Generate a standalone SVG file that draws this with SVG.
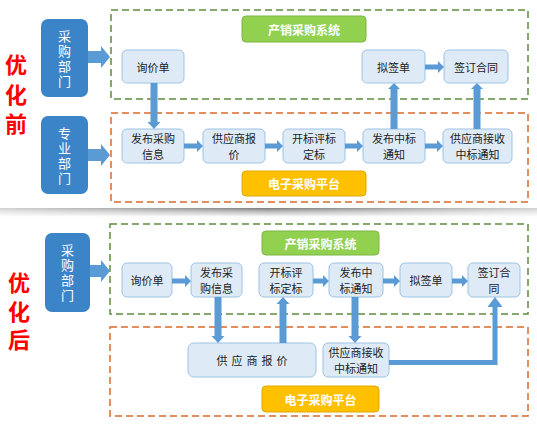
<svg xmlns="http://www.w3.org/2000/svg" width="537" height="424" viewBox="0 0 537 424">
<defs>
<linearGradient id="sh" x1="0" y1="0" x2="0" y2="1">
<stop offset="0" stop-color="#7a7a7a"/>
<stop offset="0.35" stop-color="#b5b5b5"/>
<stop offset="1" stop-color="#ffffff"/>
</linearGradient>
<linearGradient id="shm" x1="0" y1="0" x2="1" y2="0">
<stop offset="0" stop-color="#fff" stop-opacity="0.35"/>
<stop offset="0.5" stop-color="#fff" stop-opacity="1"/>
<stop offset="1" stop-color="#fff" stop-opacity="0.35"/>
</linearGradient>
<mask id="m"><rect x="0" y="200" width="537" height="30" fill="url(#shm)"/></mask>
</defs>
<style>
text{font-family:"Noto Sans CJK SC","Noto Sans",sans-serif;}
.n{fill:#DEEBF7;stroke:#9DC3E6;stroke-width:1;}
.nt{font-size:11px;fill:#222;text-anchor:middle;dominant-baseline:central;}
.d{fill:#3C84C8;}
.dt{font-size:13px;fill:#fff;text-anchor:middle;writing-mode:vertical-rl;letter-spacing:2px;}
.g{fill:#92D050;stroke:#7DB544;stroke-width:1;}
.y{fill:#FFC000;stroke:#E0A900;stroke-width:1;}
.lt{font-size:12px;font-weight:bold;fill:#fff;text-anchor:middle;dominant-baseline:central;}
.gd{fill:none;stroke:#5E8D3C;stroke-width:1.5;stroke-dasharray:7 4;}
.od{fill:none;stroke:#D96A2B;stroke-width:1.5;stroke-dasharray:7 4;}
.a{fill:#5B9BD5;}
.al{fill:none;stroke:#5B9BD5;stroke-width:5;}
.big{font-size:22px;font-weight:bold;fill:#FF0000;text-anchor:middle;writing-mode:vertical-rl;}
</style>
<rect width="537" height="424" fill="#fff"/>
<rect x="0" y="208" width="537" height="9" fill="url(#sh)" mask="url(#m)"/>

<!-- Top section -->
<g id="label-before"><text class="big" x="16" y="98" letter-spacing="7.5">优化前</text></g>
<g id="zone-top-green"><rect class="gd" x="111" y="10" width="417" height="89"/></g>
<g id="zone-top-orange"><rect class="od" x="111" y="113" width="417" height="89"/></g>
<g id="dept-purchase-top"><rect class="d" x="41" y="19" width="47" height="78" rx="7"/>
<text class="dt" x="64.5" y="59.5">采购部门</text></g>
<g id="dept-pro-top"><rect class="d" x="41" y="116" width="47" height="78" rx="7"/>
<text class="dt" x="64.5" y="156.5">专业部门</text></g>
<g id="sys-top"><rect class="g" x="242" y="16" width="124" height="26" rx="4"/><text class="lt" x="304" y="29">产销采购系统</text></g>
<g id="plat-top"><rect class="y" x="242" y="171" width="124" height="25" rx="4"/><text class="lt" x="304" y="183.5">电子采购平台</text></g>
<g id="t-inquiry"><rect class="n" x="122" y="50" width="62" height="33" rx="5"/><text class="nt" x="153" y="66.5">询价单</text></g>
<g id="t-publish"><rect class="n" x="122" y="129" width="62" height="34" rx="5"/><text class="nt"><tspan x="153" y="138">发布采购</tspan><tspan x="153" y="154">信息</tspan></text></g>
<g id="t-quote"><rect class="n" x="203" y="129" width="62" height="34" rx="5"/><text class="nt"><tspan x="234" y="138">供应商报</tspan><tspan x="234" y="154">价</tspan></text></g>
<g id="t-eval"><rect class="n" x="283" y="129" width="62" height="34" rx="5"/><text class="nt"><tspan x="314" y="138">开标评标</tspan><tspan x="314" y="154">定标</tspan></text></g>
<g id="t-notice"><rect class="n" x="363" y="129" width="62" height="34" rx="5"/><text class="nt"><tspan x="394" y="138">发布中标</tspan><tspan x="394" y="154">通知</tspan></text></g>
<g id="t-receive"><rect class="n" x="443" y="129" width="69" height="34" rx="5"/><text class="nt"><tspan x="477.5" y="138">供应商接收</tspan><tspan x="477.5" y="154">中标通知</tspan></text></g>
<g id="t-draft"><rect class="n" x="362" y="50" width="63" height="33" rx="5"/><text class="nt" x="393.5" y="66.5">拟签单</text></g>
<g id="t-sign"><rect class="n" x="444" y="50" width="64" height="33" rx="5"/><text class="nt" x="476" y="66.5">签订合同</text></g>

<!-- Bottom section -->
<g id="label-after"><text class="big" x="19" y="314.5" letter-spacing="6.5">优化后</text></g>
<g id="zone-bot-green"><rect class="gd" x="110" y="224" width="418" height="90"/></g>
<g id="zone-bot-orange"><rect class="od" x="110" y="327" width="418" height="89"/></g>
<g id="dept-purchase-bot"><rect class="d" x="45" y="233" width="45" height="79" rx="7"/>
<text class="dt" x="67.5" y="274" letter-spacing="1.7">采购部门</text></g>
<g id="sys-bot"><rect class="g" x="262" y="231" width="117" height="24" rx="4"/><text class="lt" x="320.5" y="243">产销采购系统</text></g>
<g id="plat-bot"><rect class="y" x="262" y="386" width="117" height="26" rx="4"/><text class="lt" x="320.5" y="399">电子采购平台</text></g>
<g id="b-inquiry"><rect class="n" x="122" y="263" width="50" height="34" rx="5"/><text class="nt" x="147" y="280">询价单</text></g>
<g id="b-publish"><rect class="n" x="191" y="263" width="51" height="34" rx="5"/><text class="nt"><tspan x="216.5" y="272">发布采</tspan><tspan x="216.5" y="288">购信息</tspan></text></g>
<g id="b-eval"><rect class="n" x="259" y="263" width="54" height="34" rx="5"/><text class="nt"><tspan x="286" y="272">开标评</tspan><tspan x="286" y="288">标定标</tspan></text></g>
<g id="b-notice"><rect class="n" x="329" y="263" width="54" height="34" rx="5"/><text class="nt"><tspan x="356" y="272">发布中</tspan><tspan x="356" y="288">标通知</tspan></text></g>
<g id="b-draft"><rect class="n" x="400" y="263" width="52" height="34" rx="5"/><text class="nt" x="426" y="280">拟签单</text></g>
<g id="b-sign"><rect class="n" x="468" y="263" width="52" height="34" rx="5"/><text class="nt"><tspan x="494" y="272">签订合</tspan><tspan x="494" y="288">同</tspan></text></g>
<g id="b-quote"><rect class="n" x="188" y="343" width="128" height="34" rx="6"/><text class="nt" x="254" y="360" letter-spacing="4">供应商报价</text></g>
<g id="b-receive"><rect class="n" x="323" y="343" width="66" height="34" rx="5"/><text class="nt"><tspan x="356" y="352">供应商接收</tspan><tspan x="356" y="368">中标通知</tspan></text></g>

<g id="connectors">
<!-- dept arrows -->
<polygon class="a" points="88,51 101,51 101,46 110,57 101,68 101,63 88,63"/>
<polygon class="a" points="88,149 101,149 101,144 110,155 101,166 101,161 88,161"/>
<polygon class="a" points="90,265 101,265 101,260 110,271 101,282 101,277 90,277"/>
<!-- top vertical down -->
<polygon class="a" points="150.5,83 157.5,83 157.5,122 160.5,122 154,129 147.5,122 150.5,122"/>
<!-- top horizontal -->
<polygon class="a" points="184,143.5 197,143.5 197,140 203,146 197,152 197,148.5 184,148.5"/>
<polygon class="a" points="265,143.5 277,143.5 277,140 283,146 277,152 277,148.5 265,148.5"/>
<polygon class="a" points="345,143.5 357,143.5 357,140 363,146 357,152 357,148.5 345,148.5"/>
<polygon class="a" points="425,143.5 437,143.5 437,140 443,146 437,152 437,148.5 425,148.5"/>
<polygon class="a" points="425,64.5 438,64.5 438,61 444,67 438,73 438,69.5 425,69.5"/>
<!-- top vertical up -->
<polygon class="a" points="390.5,129 397.5,129 397.5,89 400,89 394,83 388,89 390.5,89"/>
<polygon class="a" points="473.5,129 480.5,129 480.5,89 483,89 477,83 471,89 473.5,89"/>
<!-- bottom horizontal -->
<polygon class="a" points="172,278.5 185,278.5 185,275 191,281 185,287 185,283.5 172,283.5"/>
<polygon class="a" points="313,278.5 323,278.5 323,275 329,281 323,287 323,283.5 313,283.5"/>
<polygon class="a" points="383,278.5 394,278.5 394,275 400,281 394,287 394,283.5 383,283.5"/>
<polygon class="a" points="452,278.5 462,278.5 462,275 468,281 462,287 462,283.5 452,283.5"/>
<!-- bottom vertical -->
<polygon class="a" points="214.5,297 221.5,297 221.5,336 224.5,336 218,343 211.5,336 214.5,336"/>
<polygon class="a" points="279.5,343 286.5,343 286.5,304 289.5,304 283,297 276.5,304 279.5,304"/>
<polygon class="a" points="351.5,297 358.5,297 358.5,336 361.5,336 355,343 348.5,336 351.5,336"/>
<!-- L connector -->
<polyline class="al" points="389,362.5 495,362.5 495,306"/>
<polygon class="a" points="487.5,307 502.5,307 495,297"/>
</g>
</svg>
